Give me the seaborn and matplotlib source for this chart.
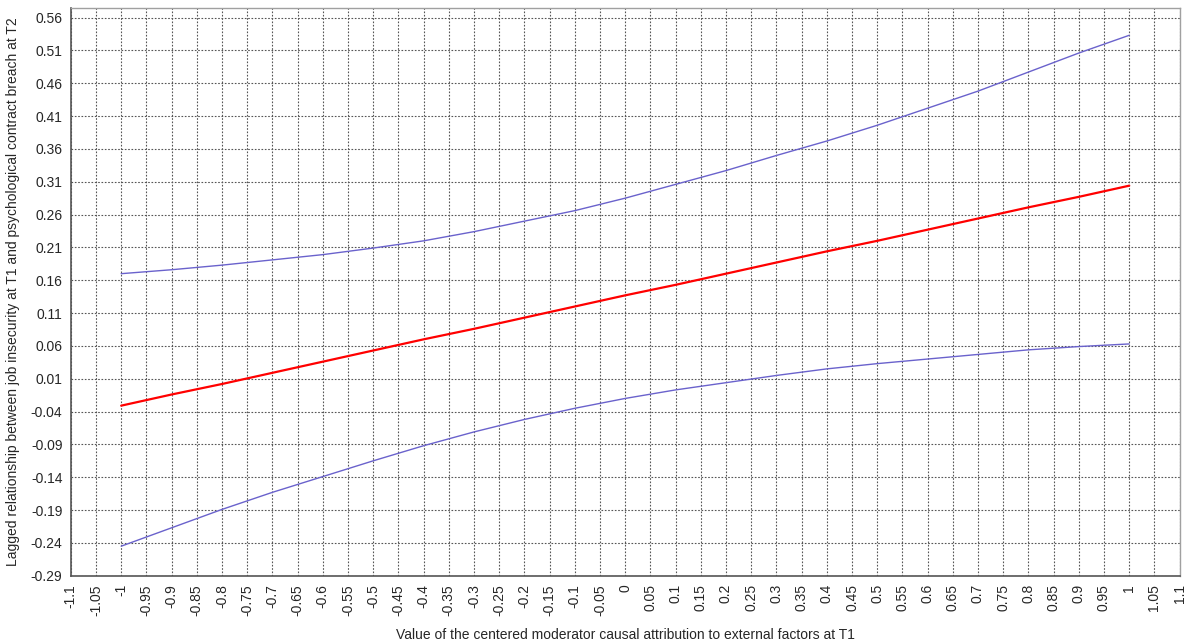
import numpy as np
import pandas as pd
import matplotlib
matplotlib.use("Agg")
import matplotlib.pyplot as plt
import seaborn as sns

# values
x_vals = [-1.0, -0.9, -0.8, -0.7, -0.6, -0.5, -0.4, -0.3, -0.2, -0.1, 0.0,
          0.1, 0.2, 0.3, 0.4, 0.5, 0.6, 0.7, 0.8, 0.9, 1.0]
effect = [-0.031, -0.014, 0.002, 0.019, 0.036, 0.053, 0.070, 0.086, 0.103, 0.120, 0.137,
          0.153, 0.170, 0.187, 0.204, 0.220, 0.237, 0.254, 0.271, 0.287, 0.304]
upper = [0.170, 0.176, 0.183, 0.191, 0.199, 0.209, 0.220, 0.234, 0.250, 0.266, 0.285,
         0.306, 0.327, 0.350, 0.372, 0.396, 0.422, 0.448, 0.477, 0.506, 0.533]
lower = [-0.245, -0.217, -0.189, -0.163, -0.139, -0.115, -0.092, -0.071, -0.052, -0.035, -0.020,
         -0.007, 0.004, 0.015, 0.025, 0.033, 0.040, 0.047, 0.054, 0.059, 0.063]

x_ticks = np.round(np.arange(-1.1, 1.1001, 0.05), 2)
y_ticks = np.round(np.arange(-0.29, 0.5601, 0.05), 2)

df = pd.DataFrame({"x": x_vals, "effect": effect, "upper": upper, "lower": lower})

sns.set_style("white")
plt.rcParams['font.family'] = ['Liberation Sans', 'DejaVu Sans']

fig = plt.figure(figsize=(12, 6.44), dpi=100)
ax = fig.add_axes([0.059, 0.106, 0.924, 0.882])

sns.lineplot(data=df, x="x", y="upper", color="#6a62cc", linewidth=1.0, ax=ax)
sns.lineplot(data=df, x="x", y="lower", color="#6a62cc", linewidth=1.0, ax=ax)
sns.lineplot(data=df, x="x", y="effect", color="#ff0000", linewidth=1.6, ax=ax)

ax.set_xlim(-1.1, 1.1)
ax.set_ylim(-0.29, 0.575)
ax.set_xticks(x_ticks)
ax.set_xticklabels([f"{v:g}" for v in x_ticks], rotation=90, va="top", fontsize=10)
ax.set_yticks(y_ticks)
ax.set_yticklabels([f"{v:g}" for v in y_ticks], fontsize=10)
ax.tick_params(axis="both", direction="out", length=4, width=0.8, color="#444444", pad=2)

ax.grid(True, linestyle=(0, (1.5, 1.5)), color="#555555", linewidth=0.8)
ax.set_axisbelow(True)

for side in ["left", "bottom"]:
    ax.spines[side].set_color("#555555")
    ax.spines[side].set_linewidth(1.2)
for side in ["top", "right"]:
    ax.spines[side].set_color("#a0a0a0")
    ax.spines[side].set_linewidth(1.0)

ax.set_xlabel("Value of the centered moderator causal attribution to external factors at T1",
              fontsize=10, labelpad=9)
ax.set_ylabel("Lagged relationship between job insecurity at T1 and psychological contract breach at T2",
              fontsize=10, labelpad=8)

fig.savefig("out.png", dpi=100)
